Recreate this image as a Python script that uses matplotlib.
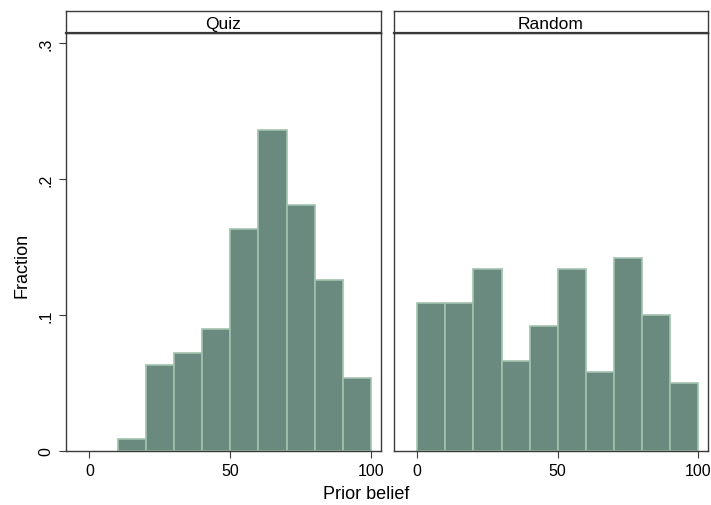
import matplotlib
matplotlib.use("Agg")
import matplotlib.pyplot as plt
import numpy as np

plt.rcParams['font.family'] = ['Liberation Sans', 'DejaVu Sans']

# bin edges (width 10) and fractions
bin_edges = [0, 10, 20, 30, 40, 50, 60, 70, 80, 90, 100]
quiz_frac = [0.0, 0.0085, 0.063, 0.072, 0.090, 0.163, 0.236, 0.181, 0.126, 0.054]
random_frac = [0.109, 0.109, 0.134, 0.066, 0.092, 0.134, 0.058, 0.142, 0.100, 0.050]

panels = ["Quiz", "Random"]
y_ticks = [0, 0.1, 0.2, 0.3]
y_labels = ["0", ".1", ".2", ".3"]
x_ticks = [0, 50, 100]

fill = "#6a897f"
edge = "#a3c2ae"
frame = "#3a3a3a"

fig = plt.figure(figsize=(7.11, 5.06), dpi=100)

W, H = 711, 506
def box(x0, y0, x1, y1):
    # pixel box (top-left origin) -> figure fraction
    return [x0 / W, 1 - y1 / H, (x1 - x0) / W, (y1 - y0) / H]

lefts = [(66, 381), (394, 708)]
for i, (name, vals) in enumerate(zip(panels, [quiz_frac, random_frac])):
    x0, x1 = lefts[i]
    ax = fig.add_axes(box(x0, 34, x1, 452))
    bars = ax.bar(bin_edges[:-1], vals, width=10, align="edge",
                  color=fill, edgecolor=edge, linewidth=1.2)
    for b, v in zip(bars, vals):
        if v == 0:
            b.set_visible(False)
    ax.set_xlim(-8.3, 103.5)
    ax.set_ylim(0, 0.3074)
    ax.set_xticks(x_ticks)
    ax.set_xticklabels([str(t) for t in x_ticks], fontsize=11.5)
    ax.tick_params(axis="x", length=5, color=frame, pad=4)
    if i == 0:
        ax.set_yticks(y_ticks)
        ax.set_yticklabels(y_labels, rotation=90, va="center", fontsize=11.5)
        ax.tick_params(axis="y", length=5, color=frame, pad=4)
    else:
        ax.set_yticks([])
    for s in ax.spines.values():
        s.set_color(frame)
        s.set_linewidth(1.0)

    # strip with panel title
    st = fig.add_axes(box(x0, 12, x1, 34))
    st.set_xticks([])
    st.set_yticks([])
    for s in st.spines.values():
        s.set_color(frame)
        s.set_linewidth(1.0)
    st.spines["bottom"].set_linewidth(1.6)
    st.text(0.5, 0.45, name, ha="center", va="center", fontsize=12.5,
            transform=st.transAxes)

fig.text(366 / W, 1 - 495 / H, "Prior belief", ha="center", va="center", fontsize=13)
fig.text(22 / W, 1 - 265 / H, "Fraction", ha="center", va="center",
         rotation=90, fontsize=13)

fig.savefig("out.png", dpi=100)
